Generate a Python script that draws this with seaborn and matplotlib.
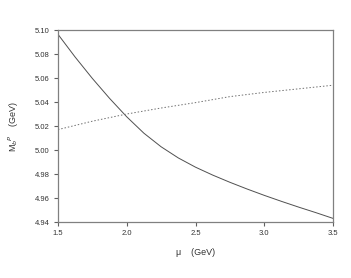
import numpy as np
import pandas as pd
import matplotlib
matplotlib.use("Agg")
import matplotlib.pyplot as plt
import seaborn as sns

mu_solid = [1.5, 1.625, 1.75, 1.875, 2.0, 2.125, 2.25, 2.375, 2.5,
            2.625, 2.75, 2.875, 3.0, 3.125, 3.25, 3.375, 3.5]
m_solid = [5.0965, 5.0775, 5.0597, 5.0431, 5.0277, 5.0140, 5.0027, 4.9934, 4.9857,
           4.9791, 4.9731, 4.9675, 4.9622, 4.9572, 4.9524, 4.9478, 4.9430]
mu_dotted = [1.5, 1.75, 2.0, 2.25, 2.5, 2.75, 3.0, 3.25, 3.5]
m_dotted = [5.017, 5.024, 5.030, 5.035, 5.0395, 5.0445, 5.048, 5.051, 5.054]

solid_df = pd.DataFrame({"mu": mu_solid, "M": m_solid})
dotted_df = pd.DataFrame({"mu": mu_dotted, "M": m_dotted})

sns.set_style("white")
plt.rcParams['font.family'] = ['Liberation Sans', 'DejaVu Sans']

fig = plt.figure(figsize=(3.51, 2.78), dpi=100)
ax = fig.add_axes([0.165, 0.2014, 0.784, 0.6906])

sns.lineplot(data=solid_df, x="mu", y="M", ax=ax, color="#505050", linewidth=0.7)
sns.lineplot(data=dotted_df, x="mu", y="M", ax=ax, color="#707070", linewidth=0.7,
             linestyle=(0, (1.5, 2)))

ax.set_xlim(1.5, 3.5)
ax.set_ylim(4.94, 5.10)
ax.set_xticks([1.5, 2.0, 2.5, 3.0, 3.5])
ax.set_yticks([4.94, 4.96, 4.98, 5.00, 5.02, 5.04, 5.06, 5.08, 5.10])
ax.set_xticklabels(["1.5", "2.0", "2.5", "3.0", "3.5"])
ax.set_yticklabels(["4.94", "4.96", "4.98", "5.00", "5.02", "5.04", "5.06", "5.08", "5.10"])

for s in ax.spines.values():
    s.set_color("#808080")
    s.set_linewidth(0.9)
ax.tick_params(axis="both", which="major", direction="out", length=3, width=0.8,
               color="#606060", labelsize=5.5, labelcolor="#333333", pad=3)
ax.tick_params(bottom=True, left=True, top=False, right=False)

ax.set_xlabel("μ    (GeV)", fontsize=6.5, color="#333333", labelpad=8)
ax.set_ylabel(r"M$_b$$^P$    (GeV)", fontsize=6.5, color="#333333", labelpad=10)

fig.savefig("out.png", dpi=100)
